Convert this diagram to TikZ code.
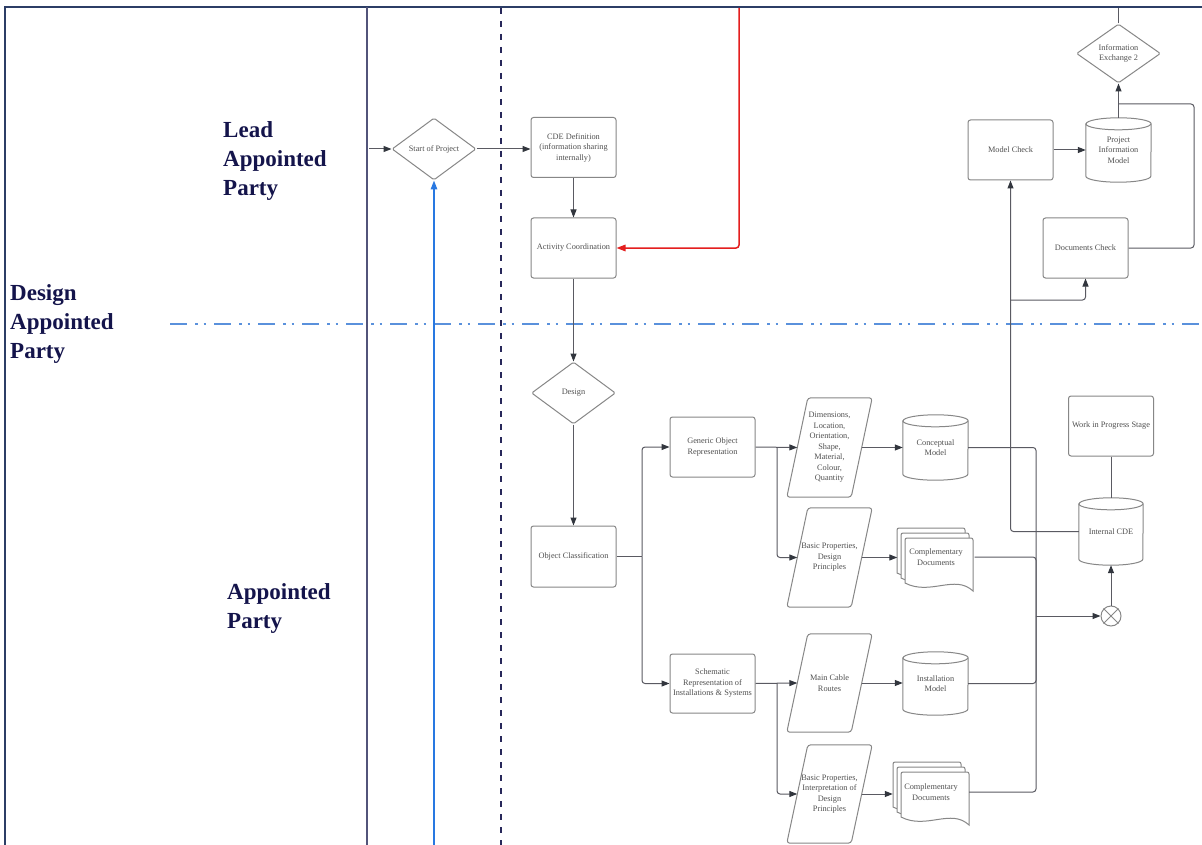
\documentclass[tikz,border=0pt]{standalone}
\usepackage{fontspec}
\setmainfont{Liberation Serif}
\usetikzlibrary{arrows.meta,shapes.geometric}
\definecolor{bcol}{RGB}{135,135,135}
\definecolor{tcol}{RGB}{80,80,80}
\definecolor{lcol}{RGB}{90,90,98}
\definecolor{tipcol}{RGB}{50,54,62}
\definecolor{framecol}{RGB}{44,62,102}
\definecolor{lanecol}{RGB}{82,84,122}
\definecolor{dashcol}{RGB}{40,40,90}
\definecolor{dashblue}{RGB}{90,145,220}
\definecolor{labcol}{RGB}{20,20,75}
\definecolor{redcol}{RGB}{228,30,30}
\definecolor{bluecol}{RGB}{40,120,225}
\newcommand{\nfs}{\fontsize{8.3}{10.5}\selectfont}
\newcommand{\bigfs}{\fontsize{23}{29}\selectfont\bfseries}
\tikzset{
  shp/.style={draw=bcol, line width=1pt},
  box/.style={shp, rounded corners=2.5pt, minimum width=85pt, minimum height=60pt, align=center, text=tcol, font=\nfs, inner sep=1pt, fill=white},
  txt/.style={align=center, text=tcol, font=\nfs, inner sep=0pt},
  dia/.style={diamond, shp, aspect=1.35, minimum width=84pt, minimum height=62pt, inner sep=0pt, align=center, text=tcol, font=\nfs, rounded corners=1.5pt},
  para/.style={txt, minimum width=64pt, minimum height=99pt},
  cyl/.style={txt, minimum width=65pt, minimum height=65pt},
  ln/.style={draw=lcol, line width=1pt, rounded corners=3pt},
  arr/.style={ln, -{Triangle[length=8pt,width=6pt,color=tipcol]}},
  lab/.style={anchor=north west, inner sep=0pt, align=left, text=labcol, font=\bigfs},
}
% cylinder outline around an invisible node: #1 name, #2 half width, #3 ellipse radius
\newcommand{\cylsh}[3]{%
  \draw[shp] ([yshift=-#3]#1.north west) -- ([yshift=#3]#1.south west)
    arc[start angle=180,end angle=360,x radius=#2,y radius=#3]
    -- ([yshift=-#3]#1.north east)
    arc[start angle=0,end angle=180,x radius=#2,y radius=#3] -- cycle;
  \draw[shp] ([yshift=-#3]#1.north west) arc[start angle=180,end angle=360,x radius=#2,y radius=#3];}
% parallelogram outline around an invisible node
\newcommand{\parash}[1]{%
  \draw[shp, rounded corners=3pt] ([xshift=10.5pt]#1.north west) -- ([xshift=10.5pt]#1.north east)
    -- ([xshift=-10.5pt]#1.south east) -- ([xshift=-10.5pt]#1.south west) -- cycle;}
% one document sheet, local coordinates
\newcommand{\onedoc}{%
  \draw[shp, fill=white] (0,45) [rounded corners=2pt] -- (0,0) -- (68,0) [sharp corners] -- (68,53)
    .. controls (50,36) and (25,58) .. (0,45) -- cycle;}
\newcommand{\mdoc}[2]{%
  \begin{scope}[shift={(#1,#2)}]
    \begin{scope}[shift={(-8,-10)}]\onedoc\end{scope}
    \begin{scope}[shift={(-4,-5)}]\onedoc\end{scope}
    \onedoc
  \end{scope}}
\begin{document}
\begin{tikzpicture}[x=1pt,y=-1pt]
\useasboundingbox (0,0) rectangle (1202,845);
\fill[white] (0,0) rectangle (1202,845);

% ---- lanes and frame
\coordinate (fbl) at (5,845);
\coordinate (ftl) at (5,7);
\coordinate (ftr) at (1202,7);
\draw[framecol, line width=2pt] (fbl) -- (ftl) -- (ftr);
\coordinate (lt) at (367,7);
\coordinate (lb) at (367,845);
\draw[lanecol, line width=2pt] (lt) -- (lb);
\coordinate (dt) at (501,8);
\coordinate (db) at (501,845);
\draw[dashcol, line width=1.8pt, dash pattern=on 6pt off 7pt] (dt) -- (db);
\coordinate (hl) at (170,324);
\coordinate (hr) at (1202,324);
\draw[dashblue, line width=2.5pt, dash pattern=on 17pt off 8pt on 2.5pt off 6pt on 2.5pt off 8pt] (hl) -- (hr);

% ---- lane labels
\node[lab] (l1) at (223,121.5) {Lead\\Appointed\\Party};
\node[lab] (l2) at (10,284) {Design\\Appointed\\Party};
\node[lab] (l3) at (227,583) {Appointed\\Party};

% ---- nodes
\node[dia] (sop) at (434,149) {Start of Project};
\node[box] (cde) at (573.5,147.5) {CDE Definition\\(information sharing\\internally)};
\node[box] (act) at (573.5,248) {Activity Coordination};
\node[dia] (des) at (573.5,393) {Design};
\node[box, minimum height=61pt] (oc) at (573.5,556.5) {Object Classification};
\node[box] (gor) at (712.5,447) {Generic Object\\Representation};
\node[box, minimum height=59pt] (sch) at (712.5,683.5) {Schematic\\Representation of\\Installations \& Systems};

\node[para] (p1) at (829.5,447.5) {Dimensions,\\Location,\\Orientation,\\Shape,\\Material,\\Colour,\\Quantity};
\parash{p1}
\node[para] (p2) at (829.5,557.5) {Basic Properties,\\Design\\Principles};
\parash{p2}
\node[para, minimum height=98pt] (p3) at (829.5,683) {Main Cable\\Routes};
\parash{p3}
\node[para, minimum height=98pt] (p4) at (829.5,794) {Basic Properties,\\Interpretation of\\Design\\Principles};
\parash{p4}

\node[cyl] (cm) at (935.5,447.5) {Conceptual\\Model};
\cylsh{cm}{32.5pt}{6pt}
\node[cyl, minimum height=63pt] (im) at (935.5,683.5) {Installation\\Model};
\cylsh{im}{32.5pt}{6pt}

\mdoc{905}{538}
\node[txt, minimum width=77pt] (cd1) at (936,557) {Complementary\\Documents};
\mdoc{901}{772}
\node[txt, minimum width=76pt] (cd2) at (931,792) {Complementary\\Documents};

\node[circle, shp, minimum size=20pt, inner sep=0pt] (xc) at (1111,616) {};
\draw[shp] (xc.north west) -- (xc.south east);
\draw[shp] (xc.north east) -- (xc.south west);

\node[cyl, minimum width=64pt, minimum height=67pt] (icde) at (1111,531.5) {Internal CDE};
\cylsh{icde}{32pt}{6pt}
\node[box] (wip) at (1111,426) {Work in Progress Stage};

\node[box] (mc) at (1010.5,150) {Model Check};
\node[cyl, minimum height=64pt] (pim) at (1118.5,150) {Project\\Information\\Model};
\cylsh{pim}{32.5pt}{6pt}
\node[box] (dc) at (1085.5,248) {Documents Check};
\node[dia, minimum height=59pt] (ie2) at (1118.5,53.5) {Information\\Exchange 2};

% ---- connectors
\coordinate (st) at (369,149);
\draw[arr] (st) -- (sop.west);
\coordinate (bb) at (434,845);
\draw[arr, draw=bluecol, line width=1.4pt, -{Triangle[length=9pt,width=6.5pt,color=bluecol]}] (bb) -- (sop.south);
\draw[arr] (sop.east) -- (cde.west |- sop.east);
\draw[arr] (cde.south) -- (act.north);
\coordinate (rtop) at (739,8);
\draw[arr, draw=redcol, line width=1.5pt, -{Triangle[length=9pt,width=6.5pt,color=redcol]}] (rtop) |- (act.east);
\draw[arr] (act.south) -- (des.north);
\draw[arr] (des.south) -- (oc.north);

\coordinate (j0) at (642,556.5);
\draw[ln] (oc.east) -- (j0);
\draw[arr] (j0) |- (gor.west);
\draw[arr] (j0) |- (sch.west);

\coordinate (j2) at (777,447);
\draw[arr] (gor.east) -- (p1.west);
\draw[arr] (j2) |- (p2.west);
\coordinate (j3) at (777,683);
\draw[arr] (sch.east) -- (p3.west);
\draw[arr] (j3) |- (p4.west);

\draw[arr] (p1.east) -- (cm.west);
\draw[arr] (p2.east) -- (cd1.west |- p2.east);
\draw[arr] (p3.east) -- (im.west |- p3.east);
\draw[arr] (p4.east) -- (cd2.west |- p4.east);

\coordinate (j4) at (1036,616);
\draw[ln] (cm.east) -| (j4);
\draw[ln] (cd1.east) -| (j4);
\draw[ln] (im.east) -| (j4);
\draw[ln] (cd2.east) -| (j4);
\draw[arr] (j4) -- (xc.west);
\draw[arr] (xc.north) -- (icde.south);
\draw[ln] (wip.south) -- (icde.north);

\draw[arr] (icde.west) -| (mc.south);
\coordinate (j5) at (1010.5,300);
\draw[arr] (j5) -| (dc.south);
\draw[arr] (mc.east) -- (pim.west);
\draw[arr] (pim.north) -- (ie2.south);
\coordinate (j6) at (1194,104);
\coordinate (j7) at (1118.5,104);
\draw[ln] (dc.east) -| (j6) -- (j7);
\coordinate (ietop) at (1118.5,8);
\draw[ln] (ie2.north) -- (ietop);
\end{tikzpicture}
\end{document}
